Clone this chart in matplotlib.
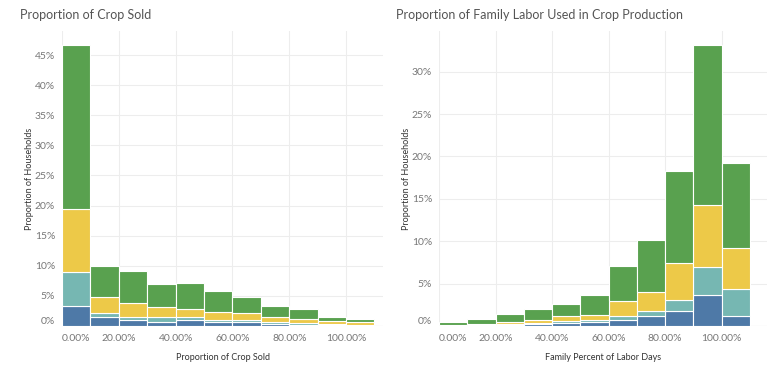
import numpy as np
import matplotlib.pyplot as plt

plt.rcParams['font.family'] = ['Lato', 'DejaVu Sans']

# bins are 10% wide, labelled by lower edge
bins = np.arange(0, 110, 10)

# Proportion of Crop Sold (% of households), stacked bottom -> top
crop_blue = [3.4, 1.45, 1.0, 0.7, 1.0, 0.6, 0.6, 0.35, 0.2, 0.1, 0.05]
crop_teal = [5.6, 0.65, 0.5, 0.75, 0.55, 0.35, 0.4, 0.25, 0.35, 0.25, 0.15]
crop_yellow = [10.4, 2.8, 2.4, 1.65, 1.35, 1.4, 1.1, 0.85, 0.65, 0.45, 0.4]
crop_green = [27.2, 5.1, 5.3, 3.8, 4.3, 3.5, 2.65, 1.85, 1.6, 0.75, 0.5]

# Proportion of Family Labor Used (% of households)
labor_blue = [0.05, 0.08, 0.12, 0.2, 0.4, 0.47, 0.67, 1.2, 1.8, 3.6, 1.15]
labor_teal = [0.05, 0.07, 0.16, 0.15, 0.2, 0.2, 0.48, 0.6, 1.3, 3.4, 3.25]
labor_yellow = [0.05, 0.1, 0.22, 0.4, 0.6, 0.58, 1.75, 2.2, 4.35, 7.3, 4.8]
labor_green = [0.35, 0.58, 0.9, 1.3, 1.45, 2.35, 4.2, 6.2, 10.85, 18.9, 10.0]

colors = ['#4E79A7', '#76B7B2', '#EDC948', '#59A14F']
grid_c = '#ededed'
text_c = '#777777'


def draw(ax, series, ymax, yticks, xmax, title, xlabel):
    bottom = np.zeros(len(bins))
    for vals, c in zip(series, colors):
        ax.bar(bins, vals, width=10, bottom=bottom, align='edge',
               color=c, edgecolor='white', linewidth=0.8, zorder=2)
        bottom += np.array(vals)
    ax.set_xlim(0, xmax)
    ax.set_ylim(0, ymax)
    ax.set_xticks(np.arange(0, 101, 20))
    ax.set_xticklabels(['%.2f%%' % v for v in np.arange(0, 101, 20)])
    ax.get_xticklabels()[0].set_ha('left')
    ax.set_yticks(yticks)
    ax.set_yticklabels(['%d%%' % v for v in yticks])
    ax.get_yticklabels()[0].set_va('bottom')
    ax.tick_params(axis='x', length=0, labelsize=7.5, colors=text_c, pad=6)
    ax.tick_params(axis='y', length=0, labelsize=7.5, colors=text_c, pad=5)
    ax.grid(True, color=grid_c, linewidth=0.8, zorder=0)
    ax.set_axisbelow(True)
    for s in ax.spines.values():
        s.set_visible(False)
    ax.axhline(0, color='#e6e6e6', linewidth=0.8, zorder=1)
    ax.set_xlabel(xlabel, fontsize=6.5, color='#333333', labelpad=7)
    ax.set_ylabel('Proportion of Households', fontsize=6.5, color='#333333', labelpad=0.5)
    ax.set_title(title, loc='left', fontsize=9, color='#555555', x=-0.13, pad=9)


fig = plt.figure(figsize=(7.68, 3.68), dpi=100)
ax1 = fig.add_axes([62 / 768, 42 / 368, 321 / 768, 295 / 368])
ax2 = fig.add_axes([439 / 768, 42 / 368, 328 / 768, 295 / 368])

draw(ax1, [crop_blue, crop_teal, crop_yellow, crop_green], 49, range(0, 50, 5), 113,
     'Proportion of Crop Sold', 'Proportion of Crop Sold')
draw(ax2, [labor_blue, labor_teal, labor_yellow, labor_green], 34.8, range(0, 35, 5), 116,
     'Proportion of Family Labor Used in Crop Production', 'Family Percent of Labor Days')

fig.savefig('out.png', dpi=100)
